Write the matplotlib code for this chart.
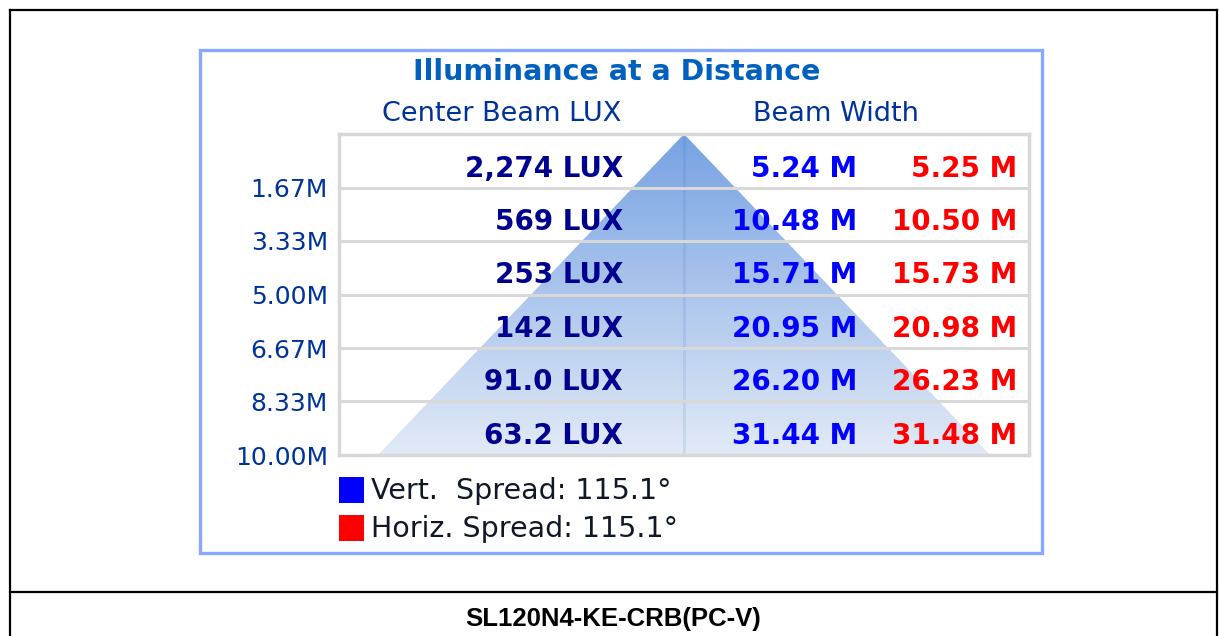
import numpy as np
import matplotlib
matplotlib.use("Agg")
import matplotlib.pyplot as plt
from matplotlib.patches import Rectangle, Polygon
from matplotlib.lines import Line2D

# ---------------- data ----------------
distance_labels = ["1.67M", "3.33M", "5.00M", "6.67M", "8.33M", "10.00M"]
distances = [1.67, 3.33, 5.00, 6.67, 8.33, 10.00]
lux_labels = ["2,274 LUX", "569 LUX", "253 LUX", "142 LUX", "91.0 LUX", "63.2 LUX"]
vert_width = [5.24, 10.48, 15.71, 20.95, 26.20, 31.44]
horiz_width = [5.25, 10.50, 15.73, 20.98, 26.23, 31.48]
vert_spread = 115.1
horiz_spread = 115.1
title = "Illuminance at a Distance"
product = "SL120N4-KE-CRB(PC-V)"

W, H = 1219, 636
fig = plt.figure(figsize=(W / 100, H / 100), dpi=100)
fig.patch.set_facecolor("white")

def fx(x):
    return x / W

def fy(y):
    return 1 - y / H

# outer frame
for (x0, y0, x1, y1) in [(10, 10, 1217, 10), (10, 10, 10, 636), (1217, 10, 1217, 636), (10, 592, 1217, 592)]:
    fig.add_artist(Line2D([fx(x0), fx(x1)], [fy(y0), fy(y1)], color="black", lw=1.6,
                          transform=fig.transFigure))

# inner blue frame
fig.add_artist(Rectangle((fx(200), fy(553)), fx(842), 503 / H, fill=False,
                         edgecolor="#88a8ff", lw=2.4, transform=fig.transFigure))

fig.text(fx(617), fy(72), title, ha="center", va="center", fontsize=20.5,
         fontweight="bold", color="#0060c0")
fig.text(fx(502), fy(114), "Center Beam LUX", ha="center", va="center", fontsize=19.5,
         color="#003399")
fig.text(fx(836), fy(114), "Beam Width", ha="center", va="center", fontsize=19.5,
         color="#003399")

# main axes
ax = fig.add_axes([fx(339), fy(455), 690 / W, 321 / H])
half = 17.72
ax.set_xlim(-half, half)
ax.set_ylim(distances[-1], 0)

# gradient triangle
tri = Polygon([(0, 0), (-vert_width[-1] / 2, distances[-1]), (vert_width[-1] / 2, distances[-1])],
              closed=True, facecolor="none", edgecolor="none")
ax.add_patch(tri)
top = np.array([0x76, 0xa2, 0xe3]) / 255
bot = np.array([0xe2, 0xea, 0xf6]) / 255
t = np.linspace(0, 1, 256)[:, None, None]
grad = top * (1 - t) + bot * t
im = ax.imshow(grad, extent=[-half, half, distances[-1], 0], aspect="auto", zorder=1)
im.set_clip_path(tri)
ax.plot([0, 0], [0, distances[-1]], color="#3060b0", alpha=0.12, lw=2, zorder=2)

# grid
for d in distances[:-1]:
    ax.axhline(d, color="#d8d8d8", lw=2.2, zorder=3)
for s in ax.spines.values():
    s.set_color("#d8d8d8")
    s.set_linewidth(2.5)

ax.set_xticks([])
ax.set_yticks(distances)
ax.set_yticklabels(distance_labels, fontsize=18, color="#003399")
ax.tick_params(axis="y", length=0, pad=8)

# row texts
prev = 0
for i, d in enumerate(distances):
    ymid = (prev + d) / 2 + 0.24
    prev = d
    ax.text(0.4116, ymid, lux_labels[i], transform=ax.get_yaxis_transform(), ha="right",
            va="center", fontsize=20, fontweight="bold", color="#000090", zorder=4)
    ax.text(0.751, ymid, f"{vert_width[i]:.2f} M", transform=ax.get_yaxis_transform(), ha="right",
            va="center", fontsize=20, fontweight="bold", color="#0000ff", zorder=4)
    ax.text(0.983, ymid, f"{horiz_width[i]:.2f} M", transform=ax.get_yaxis_transform(), ha="right",
            va="center", fontsize=20, fontweight="bold", color="#ff0000", zorder=4)

# legend
fig.add_artist(Rectangle((fx(339), fy(503)), 25 / W, 26 / H, facecolor="#0000ff",
                         edgecolor="none", transform=fig.transFigure))
fig.add_artist(Rectangle((fx(339), fy(541)), 25 / W, 26 / H, facecolor="#ff0000",
                         edgecolor="none", transform=fig.transFigure))
fig.text(fx(371), fy(491), f"Vert.  Spread: {vert_spread}°", ha="left", va="center",
         fontsize=20.5, color="#101828")
fig.text(fx(371), fy(529), f"Horiz. Spread: {horiz_spread}°", ha="left", va="center",
         fontsize=20.5, color="#101828")

fig.text(fx(613), fy(619), product, ha="center", va="center", fontsize=18.5,
         fontweight="bold", color="black", family="Liberation Sans")

fig.savefig("out.png", dpi=100)
